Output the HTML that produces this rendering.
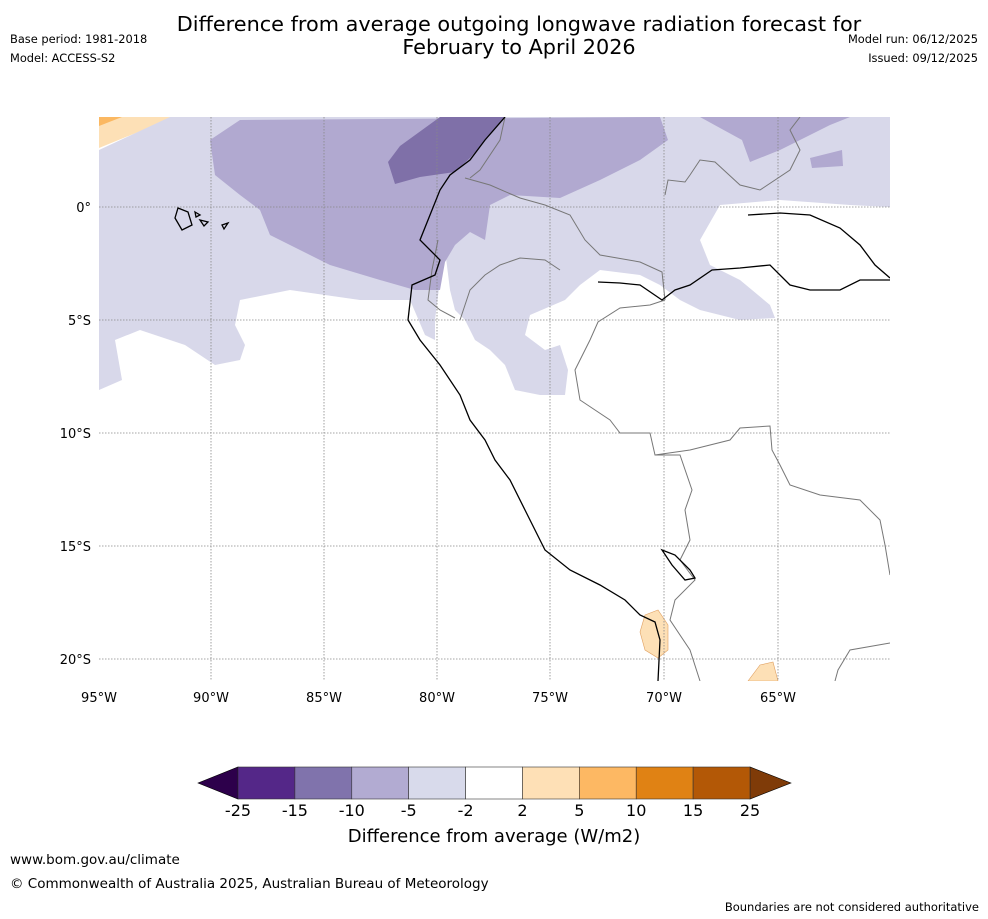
<!DOCTYPE html>
<html><head><meta charset="utf-8"><style>
body{margin:0;background:#fff;font-family:"DejaVu Sans","Liberation Sans",sans-serif}
#w{position:relative;width:988px;height:919px;overflow:hidden}
.t{position:absolute;white-space:nowrap;color:#000}
</style></head><body>
<div id="w">
<div class="t" style="left:0;width:1038px;text-align:center;top:13px;font-size:20.8px;line-height:23px">Difference from average outgoing longwave radiation forecast for<br>February to April 2026</div>
<div class="t" style="left:10px;top:32px;font-size:11.4px">Base period: 1981-2018</div>
<div class="t" style="left:10px;top:51px;font-size:11.4px">Model: ACCESS-S2</div>
<div class="t" style="right:10px;top:32px;font-size:11.4px">Model run: 06/12/2025</div>
<div class="t" style="right:10px;top:51px;font-size:11.4px">Issued: 09/12/2025</div>
<svg id="map" width="988" height="919" style="position:absolute;left:0;top:0">
<defs><clipPath id="c"><rect x="99" y="117" width="791" height="564"/></clipPath></defs>
<g clip-path="url(#c)">
<path fill="#fde0b6" d="M99,117 L175,117 L99,148Z"/>
<path fill="#fbb862" d="M99,117 L122,117 L99,126Z"/>
<path fill="#d8d8ea" d="M99,150 L170,117 L890,117 L890,207 L850,205 L780,200 L720,205 L700,240 L710,265 L740,280 L770,305 L775,318 L740,320 L700,310 L680,300 L660,285 L640,275 L600,270 L580,285 L565,300 L530,315 L525,335 L545,350 L560,345 L568,370 L565,395 L540,395 L515,390 L505,365 L490,350 L475,340 L465,320 L455,310 L450,290 L445,250 L440,280 L435,320 L435,340 L425,335 L410,300 L360,300 L290,290 L240,300 L235,325 L245,345 L240,360 L215,365 L185,345 L140,330 L115,340 L122,380 L99,390Z"/>
<path fill="#b1a9d0" d="M210,140 L240,120 L660,117 L668,140 L640,160 L600,180 L560,198 L510,195 L490,205 L485,240 L470,232 L455,245 L445,262 L440,290 L415,290 L380,280 L330,265 L300,250 L270,235 L260,210 L240,195 L215,175Z M700,117 L850,117 L830,125 L800,140 L780,150 L750,162 L742,140 L720,128Z M810,158 L842,150 L843,166 L812,168Z"/>
<path fill="#7f70a8" d="M388,162 L400,146 L440,117 L505,117 L490,135 L470,158 L455,172 L420,177 L395,184Z"/>
<path fill="#fde0b6" stroke="#e0a060" stroke-width="0.6" d="M645,615 L658,610 L668,625 L668,650 L658,658 L645,650 L640,632Z"/>
<path fill="#fde0b6" stroke="#e0a060" stroke-width="0.6" d="M748,681 L760,665 L773,662 L778,681Z"/>
<g stroke="#888" stroke-width="0.8" stroke-dasharray="1.5,1.5">
<line x1="211" y1="117" x2="211" y2="681"/><line x1="324" y1="117" x2="324" y2="681"/><line x1="437" y1="117" x2="437" y2="681"/><line x1="550" y1="117" x2="550" y2="681"/><line x1="664" y1="117" x2="664" y2="681"/><line x1="778" y1="117" x2="778" y2="681"/>
<line x1="99" y1="207" x2="890" y2="207"/><line x1="99" y1="320" x2="890" y2="320"/><line x1="99" y1="433" x2="890" y2="433"/><line x1="99" y1="546" x2="890" y2="546"/><line x1="99" y1="659" x2="890" y2="659"/>
</g>
<g fill="none" stroke="#777" stroke-width="1">
<path d="M465,178 L490,185 L520,198 L545,205 L570,215 L585,240 L600,255 L640,262 L662,272 L665,300"/>
<path d="M505,117 L500,140 L480,170 L470,178"/>
<path d="M665,300 L650,305 L620,308 L598,322 L590,340 L575,370 L580,400 L610,420 L620,433 L650,433 L655,455 L680,455 L692,490 L685,510 L690,540 L680,560 L695,580 L675,600 L670,620 L690,650 L700,681"/>
<path d="M655,455 L690,450 L730,440 L740,428 L770,426 L772,450 L780,465 L790,485 L820,495 L860,500 L880,520 L885,545 L890,575"/>
<path d="M460,320 L470,290 L485,275 L500,265 L520,258 L545,260 L560,270"/>
<path d="M665,195 L668,180 L685,182 L690,175 L700,160 L715,162 L740,185 L760,190 L790,170 L800,150 L790,130 L800,117"/>
<path d="M890,643 L850,650 L838,670 L835,681"/>
<path d="M438,240 L432,270 L428,300 L440,310 L455,318"/>
</g>
<g fill="none" stroke="#000" stroke-width="1.3">
<path d="M505,117 L485,140 L470,160 L450,175 L440,190 L430,215 L420,240 L440,260 L435,275 L412,285 L408,320 L420,340 L440,365 L460,395 L470,420 L485,440 L495,460 L510,480 L525,510 L545,550 L570,570 L600,585 L625,600 L640,615 L655,622 L660,640 L658,681"/>
<path d="M598,282 L620,283 L640,285 L662,300 L675,290 L690,285 L712,270 L740,268 L770,265 L790,285 L810,290 L840,290 L860,280 L890,280"/>
<path d="M748,215 L780,213 L810,215 L840,228 L860,245 L875,265 L890,278"/>
<path d="M662,550 L675,555 L690,570 L695,578 L685,580 L672,565Z"/>
<path d="M178,208 L188,212 L192,225 L182,230 L175,218Z M195,212 L200,215 L196,217Z M200,220 L208,222 L204,226Z M222,225 L228,223 L224,229Z"/>
</g>
</g>
<g font-size="13" text-anchor="middle" font-family="DejaVu Sans, sans-serif">
<text x="99" y="702">95°W</text><text x="211" y="702">90°W</text><text x="324" y="702">85°W</text><text x="437" y="702">80°W</text><text x="550" y="702">75°W</text><text x="664" y="702">70°W</text><text x="778" y="702">65°W</text>
</g>
<g font-size="13" text-anchor="end" font-family="DejaVu Sans, sans-serif">
<text x="91" y="212">0°</text><text x="91" y="325">5°S</text><text x="91" y="438">10°S</text><text x="91" y="551">15°S</text><text x="91" y="664">20°S</text>
</g>
<g id="cbar"></g>
</svg>
<div class="t" style="width:988px;text-align:center;left:0;top:826px;font-size:18px">Difference from average (W/m2)</div>
<div class="t" style="left:10px;top:852px;font-size:13.5px">www.bom.gov.au/climate</div>
<div class="t" style="left:10px;top:876px;font-size:13.5px">© Commonwealth of Australia 2025, Australian Bureau of Meteorology</div>
<div class="t" style="right:9px;top:900px;font-size:11.5px">Boundaries are not considered authoritative</div>
</div>
<script>
const levels=["-25","-15","-10","-5","-2","2","5","10","15","25"];
const colors=["#542788","#8073ac","#b2abd2","#d8daeb","#ffffff","#fee0b6","#fdb863","#e08214","#b35806"];
const ns="http://www.w3.org/2000/svg",g=document.getElementById('cbar');
const x0=238,x1=750,y=767,h=32,bw=(x1-x0)/colors.length;
function mk(t,a){const e=document.createElementNS(ns,t);for(const k in a)e.setAttribute(k,a[k]);g.appendChild(e);return e;}
let l=mk('polygon',{points:`198,${y+h/2} ${x0},${y} ${x0},${y+h}`,fill:'#2d004b',stroke:'#000','stroke-width':0.6});


let r=mk('polygon',{points:`791,${y+h/2} ${x1},${y} ${x1},${y+h}`,fill:'#7f3b08',stroke:'#000','stroke-width':0.6});


colors.forEach((c,i)=>{const e=mk('rect',{x:x0+i*bw,y:y,width:bw,height:h,fill:c,stroke:'#333','stroke-width':0.6});

});
levels.forEach((s,i)=>{const t=mk('text',{x:x0+i*bw,y:816,'font-size':16,'text-anchor':'middle','font-family':'DejaVu Sans, sans-serif'});t.textContent=s;

});
</script>
</body></html>
